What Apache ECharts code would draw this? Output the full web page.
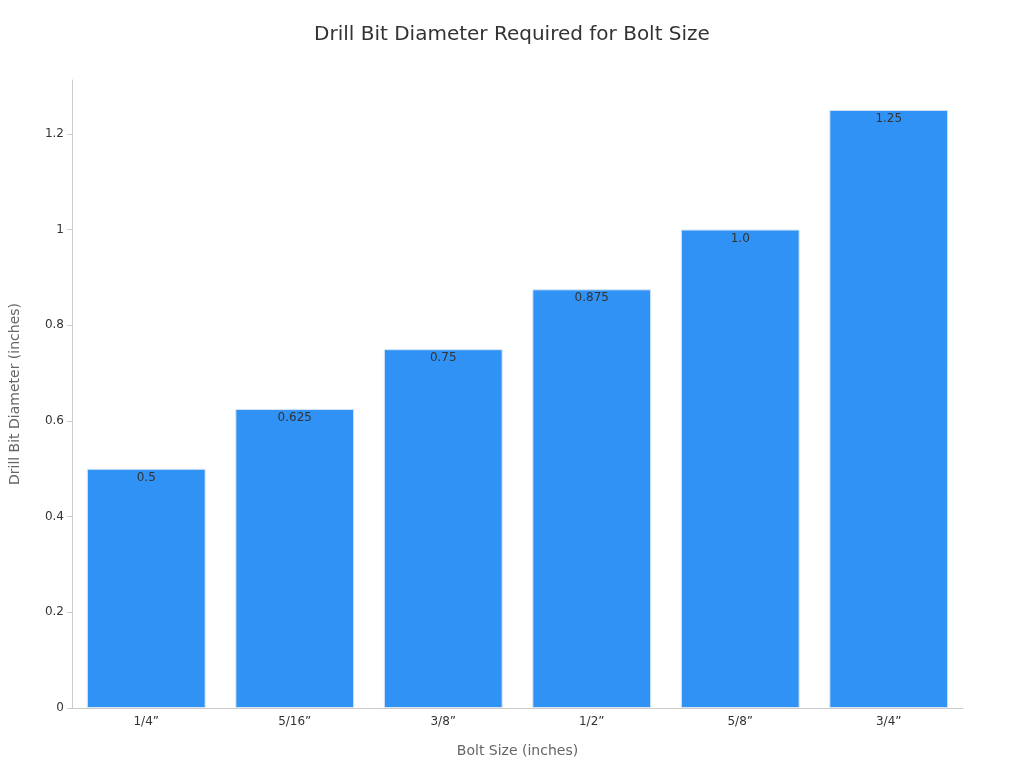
<!DOCTYPE html>
<html><head><meta charset="utf-8">
<script src="https://cdn.jsdelivr.net/npm/echarts@6/dist/echarts.min.js"></script>
<style>html,body{margin:0;padding:0;background:#fff}#c{width:1024px;height:768px}</style>
</head><body><div id="c"></div>
<script>
const categories = ['1/4”','5/16”','3/8”','1/2”','5/8”','3/4”'];
const values = [0.5, 0.625, 0.75, 0.875, 1.0, 1.25];
const valueLabels = ['0.5','0.625','0.75','0.875','1.0','1.25'];
const chart = echarts.init(document.getElementById('c'));
chart.setOption({
  textStyle:{fontFamily:'DejaVu Sans'},
  title:{text:'Drill Bit Diameter Required for Bolt Size',left:'center',top:20,
    textStyle:{fontSize:20,fontWeight:'normal',color:'#333',fontFamily:'DejaVu Sans'}},
  grid:{left:64,right:61,top:80,bottom:60},
  xAxis:{type:'category',data:categories,name:'Bolt Size (inches)',nameLocation:'middle',nameGap:36,
    nameTextStyle:{fontSize:14,color:'#666'},
    axisLine:{lineStyle:{color:'#ccc'}},axisTick:{show:false},
    axisLabel:{color:'#333',fontSize:12}},
  yAxis:{type:'value',min:0,max:1.3125,interval:0.2,name:'Drill Bit Diameter (inches)',nameLocation:'middle',nameGap:50,
    nameTextStyle:{fontSize:14,color:'#666'},
    axisLine:{show:true,lineStyle:{color:'#ccc'}},axisTick:{show:true,lineStyle:{color:'#ccc'}},
    splitLine:{show:false},
    axisLabel:{color:'#333',fontSize:12,showMaxLabel:false}},
  series:[{type:'bar',data:values,barCategoryGap:'20%',
    itemStyle:{color:'#3092f5',borderColor:'#d8e6f5',borderWidth:1},
    label:{show:true,position:'insideTop',color:'#333',fontSize:12,offset:[0,-2],
      formatter:p=>valueLabels[p.dataIndex]}}]
});
</script></body></html>
